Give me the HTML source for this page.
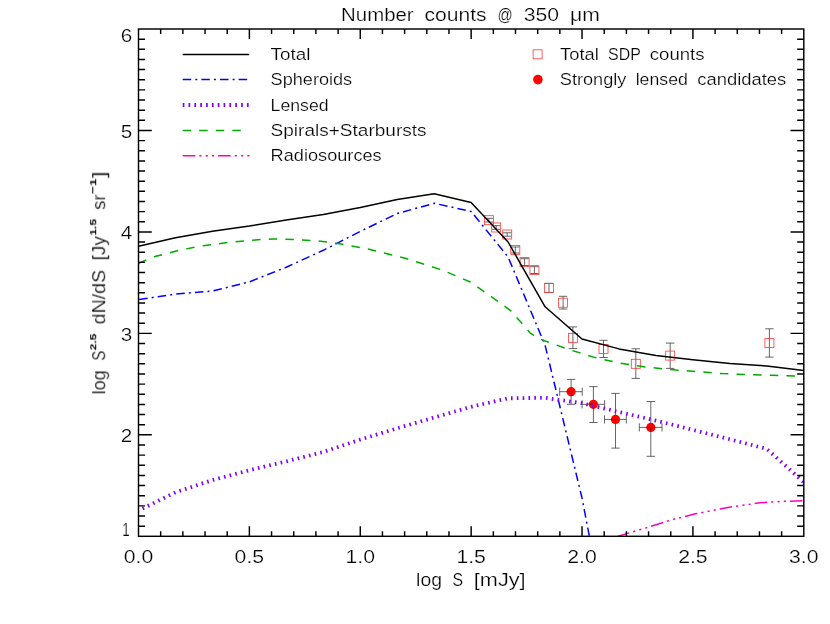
<!DOCTYPE html>
<html lang="en">
<head>
<meta charset="utf-8">
<title>Number counts @ 350 um</title>
<style>
html,body{margin:0;padding:0;background:#fff;}
body{width:830px;height:624px;overflow:hidden;font-family:"Liberation Sans",sans-serif;}
svg{display:block;}
text{font-family:"Liberation Sans",sans-serif;fill:#000;stroke:#fff;stroke-width:0.22px;}
</style>
</head>
<body>
<svg width="830" height="624" viewBox="0 0 830 624">
<rect x="0" y="0" width="830" height="624" fill="#ffffff"/>
<defs><clipPath id="plotclip"><rect x="138.5" y="29.0" width="665.3" height="507.3"/></clipPath></defs>

<g fill="none" stroke="#4a4a4a" stroke-width="0.85">
<path d="M488.9 218.3V222.0M484.7 218.3H493.1M484.7 222.0H493.1"/>
<path d="M496.2 225.7V229.3M492.0 225.7H500.4M492.0 229.3H500.4"/>
<path d="M507.2 232.8V236.2M503.0 232.8H511.4M503.0 236.2H511.4"/>
<path d="M515.3 247.0V253.0M511.1 247.0H519.5M511.1 253.0H519.5"/>
<path d="M524.6 258.7V265.5M520.4 258.7H528.8M520.4 265.5H528.8"/>
<path d="M534.4 266.7V273.5M530.2 266.7H538.6M530.2 273.5H538.6"/>
<path d="M549.0 283.3V292.5M544.8 283.3H553.2M544.8 292.5H553.2"/>
<path d="M563.1 296.3V309.0M558.9 296.3H567.3M558.9 309.0H567.3"/>
<path d="M572.9 326.9V348.6M568.7 326.9H577.1M568.7 348.6H577.1"/>
<path d="M603.5 340.3V357.5M599.3 340.3H607.7M599.3 357.5H607.7"/>
<path d="M635.8 348.8V378.4M631.6 348.8H640.0M631.6 378.4H640.0"/>
<path d="M670.2 343.1V368.4M666.0 343.1H674.4M666.0 368.4H674.4"/>
<path d="M769.4 328.8V357.1M765.2 328.8H773.6M765.2 357.1H773.6"/>
<path d="M571.1 379.4V404.3M566.9 379.4H575.3M566.9 404.3H575.3M559.7 391.7H582.2M559.7 387.6V395.8M582.2 387.6V395.8"/>
<path d="M593.4 386.6V422.5M589.2 386.6H597.6M589.2 422.5H597.6M582.1 404.3H604.6M582.1 400.2V408.4M604.6 400.2V408.4"/>
<path d="M615.5 393.4V448.1M611.3 393.4H619.7M611.3 448.1H619.7M604.5 419.4H626.3M604.5 415.3V423.5M626.3 415.3V423.5"/>
<path d="M650.8 401.5V456.3M646.6 401.5H655.0M646.6 456.3H655.0M639.3 427.4H662.0M639.3 423.3V431.5M662.0 423.3V431.5"/>
</g>
<g fill="none" stroke="#ff3838" stroke-width="0.8">
<rect x="484.40" y="215.70" width="9.0" height="9.0"/>
<rect x="491.70" y="223.00" width="9.0" height="9.0"/>
<rect x="502.70" y="230.00" width="9.0" height="9.0"/>
<rect x="510.80" y="245.50" width="9.0" height="9.0"/>
<rect x="520.10" y="257.60" width="9.0" height="9.0"/>
<rect x="529.90" y="265.60" width="9.0" height="9.0"/>
<rect x="544.50" y="283.40" width="9.0" height="9.0"/>
<rect x="558.60" y="298.20" width="9.0" height="9.0"/>
<rect x="568.40" y="333.50" width="9.0" height="9.0"/>
<rect x="599.00" y="344.40" width="9.0" height="9.0"/>
<rect x="631.30" y="359.30" width="9.0" height="9.0"/>
<rect x="665.70" y="351.10" width="9.0" height="9.0"/>
<rect x="764.90" y="338.60" width="9.0" height="9.0"/>
<rect x="533.10" y="49.80" width="9.0" height="9.0"/>
</g>
<g fill="#ff0000" stroke="none">
<circle cx="571.1" cy="391.7" r="4.6"/>
<circle cx="593.4" cy="404.3" r="4.6"/>
<circle cx="615.5" cy="419.4" r="4.6"/>
<circle cx="650.8" cy="427.4" r="4.6"/>
<circle cx="537.9" cy="79.6" r="4.8"/>
</g>
<g fill="none" stroke="#5a1a1a" stroke-opacity="0.75" stroke-width="0.9">
<path d="M566.5 391.7H571.1V396.3"/>
<path d="M588.8 404.3H593.4V408.9"/>
<path d="M610.9 419.4H615.5V424.0"/>
<path d="M646.2 427.4H650.8V432.0"/>
</g>
<g clip-path="url(#plotclip)" fill="none" stroke-linejoin="round">
<polyline points="138.5,246.2 175.5,237.7 212.4,231.2 249.4,226.1 286.3,220.1 323.3,214.4 360.3,207.6 397.2,199.4 434.2,193.8 471.1,202.6 508.1,242.0 545.1,306.8 582.0,339.0 619.0,348.9 656.0,355.5 692.9,359.8 729.9,363.4 766.8,366.0 803.8,370.5" stroke="#000" stroke-width="1.5"/>
<polyline points="138.5,299.6 175.5,294.1 212.4,291.0 249.4,281.9 286.3,267.2 323.3,250.3 360.3,231.4 397.2,213.5 434.2,203.3 471.1,211.4 508.1,257.0 545.1,345.2 582.0,498.0 619.0,690.0" stroke="#0000ff" stroke-width="1.5" stroke-dasharray="8.55 4.1 2.0 4.07" stroke-dashoffset="-0.7"/>
<polyline points="138.5,510.6 175.5,492.3 212.4,480.1 249.4,470.2 286.3,461.4 323.3,452.0 360.3,439.6 397.2,428.3 434.2,417.5 471.1,406.8 508.1,398.3 545.1,397.8 582.0,403.2 619.0,412.0 656.0,420.6 692.9,429.9 729.9,439.3 766.8,448.9 803.8,482.2" stroke="#8000ff" stroke-width="3.8" stroke-dasharray="1.6 4.24" stroke-dashoffset="1.3"/>
<polyline points="138.5,263.2 155.0,256.6 180.1,250.0 205.2,245.4 230.3,242.2 255.3,239.9 272.9,238.9 292.9,239.4 318.0,240.9 338.0,243.4 367.6,248.9 405.2,258.2 442.8,270.3 470.4,282.0 492.9,297.8 510.5,310.6 523.0,324.5 530.0,332.8 537.0,337.6 545.1,341.0 570.1,349.9 595.2,357.6 620.3,363.2 645.3,367.0 670.4,369.5 695.4,371.5 722.3,373.6 747.3,374.6 772.4,375.3 803.8,376.2" stroke="#00aa00" stroke-width="1.5" stroke-dasharray="8.45 8.19"/>
<polyline points="611.5,538.4 618.2,536.3 631.0,532.3 645.3,528.1 670.4,520.2 695.4,513.8 728.0,507.4 759.8,502.8 782.4,501.4 803.8,500.8" stroke="#ff00c0" stroke-width="1.5" stroke-dasharray="12.6 4 2.2 4.2 2.2 4 2.2 4" stroke-dashoffset="-6"/>
</g>
<g fill="none">
<path d="M182.7 54.4H249.2" stroke="#000" stroke-width="1.5"/>
<path d="M182.7 79.6H249.2" stroke="#0000ff" stroke-width="1.5" stroke-dasharray="8.5 4.1 2.0 4.05"/>
<path d="M182.7 105.0H249.4" stroke="#8000ff" stroke-width="3.8" stroke-dasharray="1.7 4.14"/>
<path d="M182.7 130.5H248.8" stroke="#00aa00" stroke-width="1.5" stroke-dasharray="8.4 8.15"/>
<path d="M182.7 155.75H249.6" stroke="#ff00c0" stroke-width="1.5" stroke-dasharray="12.6 4 2.2 4.2 2.2 4 2.2 4"/>
</g>
<g fill="none" stroke="#000" stroke-width="1.45" stroke-linecap="butt">
<rect x="138.5" y="29.0" width="665.3" height="507.3"/>
<path d="M160.68 536.3v-5.1M160.68 29.0v5.1M182.85 536.3v-5.1M182.85 29.0v5.1M205.03 536.3v-5.1M205.03 29.0v5.1M227.21 536.3v-5.1M227.21 29.0v5.1M249.38 536.3v-10.1M249.38 29.0v10.1M271.56 536.3v-5.1M271.56 29.0v5.1M293.74 536.3v-5.1M293.74 29.0v5.1M315.91 536.3v-5.1M315.91 29.0v5.1M338.09 536.3v-5.1M338.09 29.0v5.1M360.27 536.3v-10.1M360.27 29.0v10.1M382.44 536.3v-5.1M382.44 29.0v5.1M404.62 536.3v-5.1M404.62 29.0v5.1M426.80 536.3v-5.1M426.80 29.0v5.1M448.97 536.3v-5.1M448.97 29.0v5.1M471.15 536.3v-10.1M471.15 29.0v10.1M493.33 536.3v-5.1M493.33 29.0v5.1M515.50 536.3v-5.1M515.50 29.0v5.1M537.68 536.3v-5.1M537.68 29.0v5.1M559.86 536.3v-5.1M559.86 29.0v5.1M582.03 536.3v-10.1M582.03 29.0v10.1M604.21 536.3v-5.1M604.21 29.0v5.1M626.39 536.3v-5.1M626.39 29.0v5.1M648.56 536.3v-5.1M648.56 29.0v5.1M670.74 536.3v-5.1M670.74 29.0v5.1M692.92 536.3v-10.1M692.92 29.0v10.1M715.09 536.3v-5.1M715.09 29.0v5.1M737.27 536.3v-5.1M737.27 29.0v5.1M759.45 536.3v-5.1M759.45 29.0v5.1M781.62 536.3v-5.1M781.62 29.0v5.1M138.5 526.15h6.6M803.8 526.15h-6.6M138.5 516.01h6.6M803.8 516.01h-6.6M138.5 505.86h6.6M803.8 505.86h-6.6M138.5 495.72h6.6M803.8 495.72h-6.6M138.5 485.57h6.6M803.8 485.57h-6.6M138.5 475.42h6.6M803.8 475.42h-6.6M138.5 465.28h6.6M803.8 465.28h-6.6M138.5 455.13h6.6M803.8 455.13h-6.6M138.5 444.99h6.6M803.8 444.99h-6.6M138.5 434.84h13.3M803.8 434.84h-13.3M138.5 424.69h6.6M803.8 424.69h-6.6M138.5 414.55h6.6M803.8 414.55h-6.6M138.5 404.40h6.6M803.8 404.40h-6.6M138.5 394.26h6.6M803.8 394.26h-6.6M138.5 384.11h6.6M803.8 384.11h-6.6M138.5 373.96h6.6M803.8 373.96h-6.6M138.5 363.82h6.6M803.8 363.82h-6.6M138.5 353.67h6.6M803.8 353.67h-6.6M138.5 343.53h6.6M803.8 343.53h-6.6M138.5 333.38h13.3M803.8 333.38h-13.3M138.5 323.23h6.6M803.8 323.23h-6.6M138.5 313.09h6.6M803.8 313.09h-6.6M138.5 302.94h6.6M803.8 302.94h-6.6M138.5 292.80h6.6M803.8 292.80h-6.6M138.5 282.65h6.6M803.8 282.65h-6.6M138.5 272.50h6.6M803.8 272.50h-6.6M138.5 262.36h6.6M803.8 262.36h-6.6M138.5 252.21h6.6M803.8 252.21h-6.6M138.5 242.07h6.6M803.8 242.07h-6.6M138.5 231.92h13.3M803.8 231.92h-13.3M138.5 221.77h6.6M803.8 221.77h-6.6M138.5 211.63h6.6M803.8 211.63h-6.6M138.5 201.48h6.6M803.8 201.48h-6.6M138.5 191.34h6.6M803.8 191.34h-6.6M138.5 181.19h6.6M803.8 181.19h-6.6M138.5 171.04h6.6M803.8 171.04h-6.6M138.5 160.90h6.6M803.8 160.90h-6.6M138.5 150.75h6.6M803.8 150.75h-6.6M138.5 140.61h6.6M803.8 140.61h-6.6M138.5 130.46h13.3M803.8 130.46h-13.3M138.5 120.31h6.6M803.8 120.31h-6.6M138.5 110.17h6.6M803.8 110.17h-6.6M138.5 100.02h6.6M803.8 100.02h-6.6M138.5 89.88h6.6M803.8 89.88h-6.6M138.5 79.73h6.6M803.8 79.73h-6.6M138.5 69.58h6.6M803.8 69.58h-6.6M138.5 59.44h6.6M803.8 59.44h-6.6M138.5 49.29h6.6M803.8 49.29h-6.6M138.5 39.15h6.6M803.8 39.15h-6.6"/>
</g>
<g class="labels" opacity="0.999">
<text y="20.7" font-size="17.6"><tspan x="341.1" textLength="72.5" lengthAdjust="spacingAndGlyphs">Number</tspan> <tspan x="424.5" textLength="62.1" lengthAdjust="spacingAndGlyphs">counts</tspan> <tspan x="497.6" textLength="15.2" lengthAdjust="spacingAndGlyphs">@</tspan> <tspan x="523.8" textLength="35.3" lengthAdjust="spacingAndGlyphs">350</tspan> <tspan x="570.1" textLength="29.8" lengthAdjust="spacingAndGlyphs">&#956;m</tspan></text>
<text y="562.7" font-size="17.6"><tspan x="123.8" textLength="29.5" lengthAdjust="spacingAndGlyphs">0.0</tspan></text>
<text y="562.7" font-size="17.6"><tspan x="234.6" textLength="29.5" lengthAdjust="spacingAndGlyphs">0.5</tspan></text>
<text y="562.7" font-size="17.6"><tspan x="345.5" textLength="29.5" lengthAdjust="spacingAndGlyphs">1.0</tspan></text>
<text y="562.7" font-size="17.6"><tspan x="456.4" textLength="29.5" lengthAdjust="spacingAndGlyphs">1.5</tspan></text>
<text y="562.7" font-size="17.6"><tspan x="567.3" textLength="29.5" lengthAdjust="spacingAndGlyphs">2.0</tspan></text>
<text y="562.7" font-size="17.6"><tspan x="678.2" textLength="29.5" lengthAdjust="spacingAndGlyphs">2.5</tspan></text>
<text y="562.7" font-size="17.6"><tspan x="789.0" textLength="29.5" lengthAdjust="spacingAndGlyphs">3.0</tspan></text>
<text y="41.6" font-size="17.6"><tspan x="120.8" textLength="11.5" lengthAdjust="spacingAndGlyphs">6</tspan></text>
<text y="137.7" font-size="17.6"><tspan x="120.8" textLength="11.5" lengthAdjust="spacingAndGlyphs">5</tspan></text>
<text y="239.3" font-size="17.6"><tspan x="120.8" textLength="11.5" lengthAdjust="spacingAndGlyphs">4</tspan></text>
<text y="340.6" font-size="17.6"><tspan x="120.8" textLength="11.5" lengthAdjust="spacingAndGlyphs">3</tspan></text>
<text y="441.9" font-size="17.6"><tspan x="120.8" textLength="11.5" lengthAdjust="spacingAndGlyphs">2</tspan></text>
<text x="122.3" y="536.1" font-size="17.6" textLength="7.4" lengthAdjust="spacingAndGlyphs" stroke="none">1</text>
<text y="585.5" font-size="17.6"><tspan x="416.1" textLength="25.9" lengthAdjust="spacingAndGlyphs">log</tspan> <tspan x="452.6" textLength="10.6" lengthAdjust="spacingAndGlyphs">S</tspan> <tspan x="473.8" textLength="51.8" lengthAdjust="spacingAndGlyphs">[mJy]</tspan></text>
<text transform="translate(105.2,393.6) rotate(-90)" font-size="17.6"><tspan x="-0.7" y="0" textLength="24.1" lengthAdjust="spacingAndGlyphs">log</tspan> <tspan x="32.9" y="0" textLength="10.0" lengthAdjust="spacingAndGlyphs">S</tspan><tspan x="43.3" y="-8.7" font-size="9.8" font-weight="bold" stroke="none" textLength="16.8" lengthAdjust="spacingAndGlyphs">2.5</tspan> <tspan x="69.3" y="0" textLength="54.5" lengthAdjust="spacingAndGlyphs">dN/dS</tspan> <tspan x="133.3" y="0" textLength="24.1" lengthAdjust="spacingAndGlyphs">[Jy</tspan><tspan x="157.9" y="-8.7" font-size="9.8" font-weight="bold" stroke="none" textLength="16.8" lengthAdjust="spacingAndGlyphs">1.5</tspan> <tspan x="183.8" y="0" textLength="15.5" lengthAdjust="spacingAndGlyphs">sr</tspan><tspan x="199.7" y="-8.7" font-size="9.8" font-weight="bold" stroke="none" textLength="15.4" lengthAdjust="spacingAndGlyphs">&#8722;1</tspan><tspan x="215.6" y="0" textLength="6.8" lengthAdjust="spacingAndGlyphs">]</tspan></text>
<text y="60.0" font-size="17.0"><tspan x="270.6" textLength="40.0" lengthAdjust="spacingAndGlyphs">Total</tspan></text>
<text y="85.3" font-size="17.0"><tspan x="270.6" textLength="81.6" lengthAdjust="spacingAndGlyphs">Spheroids</tspan></text>
<text y="110.8" font-size="17.0"><tspan x="270.6" textLength="58.0" lengthAdjust="spacingAndGlyphs">Lensed</tspan></text>
<text y="136.2" font-size="17.0"><tspan x="270.6" textLength="156.0" lengthAdjust="spacingAndGlyphs">Spirals+Starbursts</tspan></text>
<text y="161.3" font-size="17.0"><tspan x="270.6" textLength="111.1" lengthAdjust="spacingAndGlyphs">Radiosources</tspan></text>
<text y="60.0" font-size="17.0"><tspan x="560.0" textLength="38.8" lengthAdjust="spacingAndGlyphs">Total</tspan> <tspan x="608.1" textLength="32.4" lengthAdjust="spacingAndGlyphs">SDP</tspan> <tspan x="649.8" textLength="54.8" lengthAdjust="spacingAndGlyphs">counts</tspan></text>
<text y="85.4" font-size="17.0"><tspan x="559.8" textLength="66.6" lengthAdjust="spacingAndGlyphs">Strongly</tspan> <tspan x="635.7" textLength="52.2" lengthAdjust="spacingAndGlyphs">lensed</tspan> <tspan x="697.2" textLength="89.1" lengthAdjust="spacingAndGlyphs">candidates</tspan></text>
</g>
</svg>
</body>
</html>
